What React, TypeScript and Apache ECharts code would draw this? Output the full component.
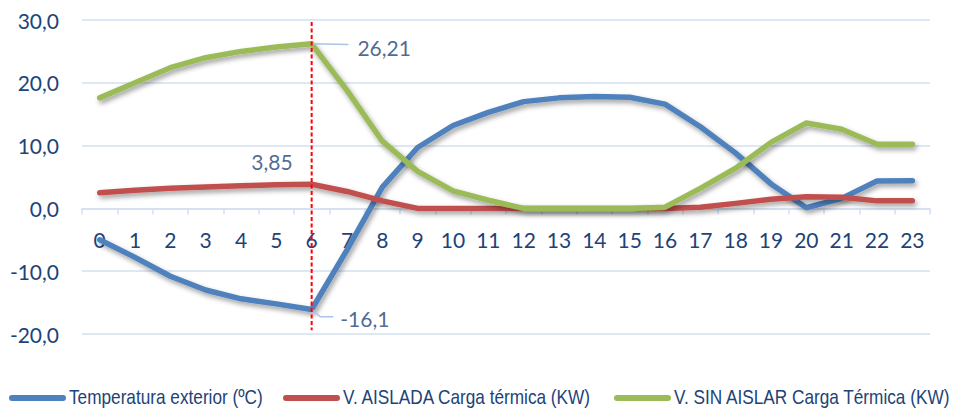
import React, { useEffect, useRef } from "react";
import * as echarts from "echarts";

// Horas del día
const hours = [
  "0", "1", "2", "3", "4", "5", "6", "7", "8", "9", "10", "11",
  "12", "13", "14", "15", "16", "17", "18", "19", "20", "21", "22", "23",
];

// Temperatura exterior (ºC)
const temperaturaExterior = [
  -5.0, -7.8, -10.8, -13.0, -14.4, -15.2, -16.1, -6.6, 3.4, 9.7, 13.2, 15.3,
  17.0, 17.6, 17.8, 17.7, 16.6, 13.0, 8.8, 3.9, 0.1, 1.6, 4.35, 4.4,
];

// V. AISLADA Carga térmica (KW)
const cargaAislada = [
  2.5, 2.9, 3.2, 3.4, 3.6, 3.75, 3.85, 2.7, 1.2, 0.0, 0.0, 0.0,
  0.0, 0.0, 0.0, 0.0, 0.0, 0.2, 0.8, 1.45, 1.86, 1.77, 1.2, 1.2,
];

// V. SIN AISLAR Carga Térmica (KW)
const cargaSinAislar = [
  17.6, 20.0, 22.4, 24.0, 25.0, 25.7, 26.21, 18.8, 10.7, 5.9, 2.8, 1.3,
  0.0, 0.0, 0.0, 0.0, 0.2, 3.2, 6.4, 10.5, 13.6, 12.6, 10.2, 10.2,
];

const seriesNames = [
  "Temperatura exterior (ºC)",
  "V. AISLADA Carga térmica (KW)",
  "V. SIN AISLAR Carga Térmica (KW)",
];
const seriesColors = ["#4F81BD", "#C0504D", "#9BBB59"];

// Eje Y
const yMin = -20;
const yMax = 30;
const yInterval = 10;

// Hora de máxima demanda marcada con la línea discontinua
const horaPico = 6;

const textColor = "#1D4378";
const gridColor = "#D3E0F1";
const leaderColor = "#A9C4E4";
const axisFont = "Lato, 'Open Sans', sans-serif";
const legendFont = "'Liberation Sans', Arial, sans-serif";

// Área de trazado
const gridTop = 20;
const gridBottom = 75;
const chartHeight = 409;

// Leyenda inferior (posición de cada entrada)
const legendIconX = [9, 283, 614];
const legendTextX = [69, 343, 674];
const legendY = 397;

const fmt = (v: number) => String(v).replace(".", ",");

export default function App() {
  const ref = useRef<HTMLDivElement>(null);

  useEffect(() => {
    document.body.style.margin = "0";
    if (!ref.current) return;
    const chart = echarts.init(ref.current, null, { renderer: "svg" });

    const lineSeries = [temperaturaExterior, cargaAislada, cargaSinAislar].map(
      (data, i) => ({
        name: seriesNames[i],
        type: "line",
        data,
        color: seriesColors[i],
        symbol: "none",
        z: 2 + i,
        lineStyle: {
          width: 5.5,
          color: seriesColors[i],
          cap: "round",
          join: "round",
          shadowBlur: 5,
          shadowColor: "rgba(0,0,0,0.38)",
          shadowOffsetX: 2,
          shadowOffsetY: 3,
        },
        itemStyle: { color: seriesColors[i] },
      })
    );

    const picoSin = cargaSinAislar[horaPico];
    const picoAislada = cargaAislada[horaPico];
    const picoTemp = temperaturaExterior[horaPico];

    const labelText = {
      fontFamily: axisFont,
      fontSize: 21,
      color: textColor,
    };

    // El eje de categorías se sube hasta el valor 0 del eje Y
    const plotHeight = chartHeight - gridTop - gridBottom;
    const zeroOffset = -((0 - yMin) / (yMax - yMin)) * plotHeight;

    // Leyenda dibujada a mano con texto estrecho
    const legendElements: any[] = [];
    seriesNames.forEach((name, i) => {
      legendElements.push({
        type: "rect",
        x: legendIconX[i],
        y: legendY - 2,
        shape: { x: 0, y: 0, width: 57, height: 6, r: 3 },
        style: { fill: seriesColors[i] },
        silent: true,
      });
      legendElements.push({
        type: "text",
        x: legendTextX[i],
        y: legendY,
        scaleX: 0.82,
        style: {
          text: name,
          x: 0,
          y: 0,
          fill: textColor,
          font: `21px ${legendFont}`,
          verticalAlign: "middle",
          align: "left",
        },
        silent: true,
      });
    });

    chart.setOption({
      animation: false,
      grid: { left: 82, right: 30, top: gridTop, bottom: gridBottom },
      graphic: legendElements,
      xAxis: [
        {
          type: "category",
          data: hours,
          boundaryGap: true,
          position: "bottom",
          offset: zeroOffset,
          axisLine: {
            onZero: false,
            lineStyle: { color: gridColor, width: 1.5 },
          },
          axisTick: { show: true, length: 6, lineStyle: { color: gridColor, width: 1.5 } },
          axisLabel: {
            interval: 0,
            margin: 21,
            fontFamily: axisFont,
            fontSize: 21,
            color: textColor,
          },
          splitLine: { show: false },
          z: 1,
        },
        {
          type: "value",
          min: -0.5,
          max: 23.5,
          show: false,
          position: "top",
          axisLine: { onZero: false },
        },
      ],
      yAxis: {
        type: "value",
        min: yMin,
        max: yMax,
        interval: yInterval,
        axisLine: { show: false, onZero: false },
        axisTick: { show: false },
        axisLabel: {
          margin: 23,
          fontFamily: axisFont,
          fontSize: 21,
          color: textColor,
          formatter: (v: number) => v.toFixed(1).replace(".", ","),
        },
        splitLine: { lineStyle: { color: gridColor, width: 1.5 } },
      },
      series: [
        ...lineSeries,
        {
          name: "pico",
          type: "line",
          xAxisIndex: 1,
          data: [
            [horaPico, 29.7],
            [horaPico, -19.4],
          ],
          symbol: "none",
          silent: true,
          z: 20,
          lineStyle: { color: "#FF0000", width: 2, type: [4, 2.5] },
        },
        {
          name: "guia-sin-aislar",
          type: "line",
          xAxisIndex: 1,
          data: [
            [horaPico, picoSin],
            [horaPico + 1.04, picoSin - 0.1],
          ],
          symbol: "none",
          silent: true,
          z: 6,
          lineStyle: { color: leaderColor, width: 1.5 },
        },
        {
          name: "guia-temp",
          type: "line",
          xAxisIndex: 1,
          data: [
            [horaPico, picoTemp],
            [horaPico + 0.24, picoTemp - 1.15],
            [horaPico + 0.61, picoTemp - 1.15],
          ],
          symbol: "none",
          silent: true,
          z: 6,
          lineStyle: { color: leaderColor, width: 1.5 },
        },
        {
          name: "etiquetas",
          type: "scatter",
          xAxisIndex: 1,
          symbolSize: 0,
          silent: true,
          z: 7,
          data: [
            {
              value: [horaPico + 1.04, picoSin - 0.1],
              label: {
                show: true,
                position: "right",
                distance: 9,
                offset: [0, 3],
                formatter: fmt(picoSin),
                ...labelText,
              },
            },
            {
              value: [horaPico, picoAislada],
              label: {
                show: true,
                position: "left",
                distance: 19,
                offset: [0, -23],
                formatter: fmt(picoAislada),
                ...labelText,
              },
            },
            {
              value: [horaPico + 0.61, picoTemp - 1.15],
              label: {
                show: true,
                position: "right",
                distance: 7,
                offset: [0, 2],
                formatter: fmt(picoTemp),
                ...labelText,
              },
            },
          ],
        },
      ],
    });

    return () => chart.dispose();
  }, []);

  return <div ref={ref} style={{ width: 960, height: 409 }} />;
}
